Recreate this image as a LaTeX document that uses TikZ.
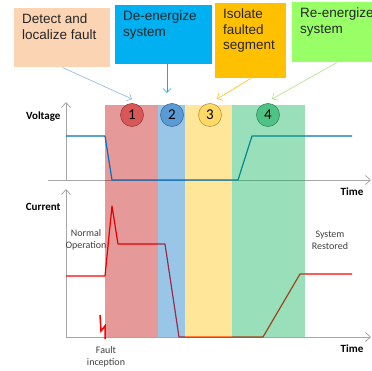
\documentclass[tikz,border=0pt]{standalone}
\usepackage{fontspec}
\setmainfont{Liberation Sans}
\newfontfamily\calfont{Carlito}
\usetikzlibrary{arrows.meta,calc}

\definecolor{detectfill}{HTML}{FBD4B4}
\definecolor{deenergfill}{HTML}{00B0F0}
\definecolor{isolatefill}{HTML}{FFC000}
\definecolor{reenergfill}{HTML}{99FF66}
\definecolor{detectarrow}{HTML}{8EB4E3}
\definecolor{reenergarrow}{HTML}{A9E27F}
\definecolor{axisgray}{HTML}{A6A6A6}
\definecolor{notegray}{HTML}{404040}
\definecolor{faultred}{HTML}{C00000}
\definecolor{deenergblue}{HTML}{0070C0}
\definecolor{restoregreen}{HTML}{00B050}
\definecolor{voltblue}{HTML}{0070C0}
\definecolor{markone}{HTML}{D95757}
\definecolor{marktwo}{HTML}{5B9BD5}
\definecolor{markthree}{HTML}{FFD966}
\definecolor{markfour}{HTML}{4DC485}

\newcommand\stagetext[3]{\parbox[t][#2pt][t]{#1pt}{\raggedright #3}}

\begin{document}
\begin{tikzpicture}[x=1pt,y=-1pt,
    stagebox/.style={rectangle,anchor=north west,inner xsep=8pt,inner ysep=6pt,
                     font=\fontsize{13.5}{15.5}\selectfont,text=black!85},
    pointer/.style={-{Straight Barb[length=4pt,width=8pt]},line width=0.6pt},
    axisline/.style={draw=axisgray,line width=0.8pt,-{Straight Barb[length=5pt,width=9pt]}},
    region/.style={fill opacity=0.4},
    stepmark/.style={circle,draw,line width=0.6pt,minimum size=23pt,inner sep=0pt,
                     font=\calfont\fontsize{15}{15}\selectfont},
    axislabel/.style={font=\calfont\bfseries\fontsize{11}{13}\selectfont},
    note/.style={align=center,text=notegray,font=\calfont\fontsize{10}{12}\selectfont}]

  \useasboundingbox (0,0) rectangle (372,371);

  % axes
  \draw[axisline] (66,180) -- (66,102);
  \draw[axisline] (48,180) -- (371,180);
  \draw[axisline] (66,337) -- (66,189);
  \draw[axisline] (66,337) -- (371,337);

  % current trace, under the shaded phases
  \draw[red,line width=1.2pt,line join=round]
    (66,276) -- (105,276) -- (112,206) -- (118,244) -- (165,244)
    -- (179,337) -- (263,337) -- (300,274) -- (352,274);

  % phases
  \fill[region,faultred]    (105,105) rectangle (158,337);
  \fill[region,deenergblue] (158,105) rectangle (185,337);
  \fill[region,isolatefill] (185,105) rectangle (232,337);

  % voltage trace
  \draw[voltblue,line width=1.2pt,line join=round]
    (66,136) -- (105,136) -- (112,180) -- (238,180) -- (252,136) -- (352,136);

  \fill[region,restoregreen] (232,105) rectangle (305,337);

  % phase numbers
  \node[stepmark,fill=markone,draw=markone!70!black]     (c1) at (132,115) {1};
  \node[stepmark,fill=marktwo,draw=marktwo!70!black]     (c2) at (172,115) {2};
  \node[stepmark,fill=markthree,draw=markthree!70!black] (c3) at (210,115) {3};
  \node[stepmark,fill=markfour,draw=markfour!70!black]   (c4) at (268,115) {4};

  % axis labels
  \node[axislabel,anchor=east] (vlab) at (64,117) {Voltage};
  \node[axislabel,anchor=east] (clab) at (64,207) {Current};
  \node[axislabel] (tup)  at (352,192) {Time};
  \node[axislabel] (tlow) at (352,349) {Time};

  \node[note] (normal)   at (86,240)  {Normal\\Operation};
  \node[note] (restored) at (330,240) {System\\Restored};
  \node[note] (fault)    at (106,357) {Fault\\inception};

  % lightning
  \draw[red,line width=1.5pt,line join=miter]
    (100,315) -- (101,331) -- (105,326) -- (105,339);

  % stage boxes
  \node[stagebox,fill=detectfill]  (detect)  at (14,8)
    {\stagetext{80}{47}{Detect and\\localize fault}};
  \node[stagebox,fill=deenergfill] (deenerg) at (115,5)
    {\stagetext{81}{47}{De-energize\\system}};
  \node[stagebox,fill=isolatefill] (isolate) at (215,3)
    {\stagetext{55}{63}{Isolate\\faulted\\segment}};
  \node[stagebox,fill=reenergfill] (reenerg) at (292,2)
    {\stagetext{74}{48}{Re-energize\\system}};

  \coordinate (t1) at (132,99);
  \coordinate (t2) at (167,93);
  \coordinate (t3) at (217,99);
  \coordinate (t4) at (272,99);

  \draw[pointer,detectarrow]  (detect.south) -- (t1);
  \draw[pointer,deenergfill]  (deenerg.south -| t2) -- (t2);
  \draw[pointer,isolatefill]  (isolate.south) -- (t3);
  \draw[pointer,reenergarrow] (reenerg.south) -- (t4);
\end{tikzpicture}
\end{document}
